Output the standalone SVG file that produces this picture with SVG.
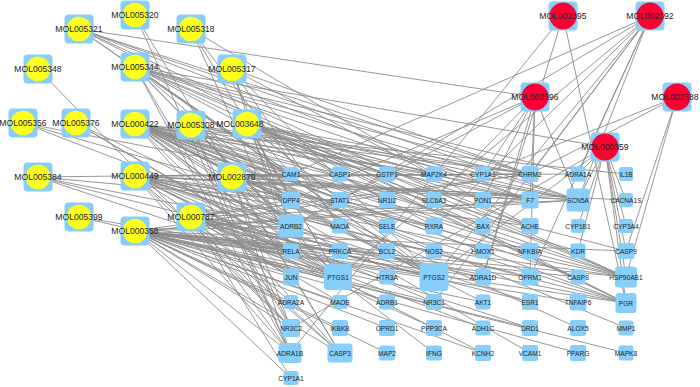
<svg xmlns="http://www.w3.org/2000/svg" width="700" height="387" viewBox="0 0 700 387">
<style>
.e{fill:none;stroke:#8c8c8c;stroke-width:0.9}
.t rect{fill:#87cefa}
.t text{font-family:"Liberation Sans",Arial,sans-serif;font-size:6.6px;fill:#222;text-anchor:middle}
.c rect{fill:#87cefa}
.c text{font-family:"Liberation Sans",Arial,sans-serif;font-size:8.6px;fill:#222;text-anchor:middle}
.y circle{fill:#ffff1e}
.r circle{fill:#ff0033}
</style>
<rect width="700" height="387" fill="#fff"/>
<g id="edges">
<path class="e" d="M135 15L290 353M135 15L340 353"/>
<path class="e" d="M79 29L530 174M79 29L530 200M79 29L626 277M79 29L626 303M79 29L434 277M79 29L291 174M79 29L535 97M79 29L578 200"/>
<path class="e" d="M191 29L434 174M191 29L338 277M191 29L291 251M191 29L340 226"/>
<path class="e" d="M38 69L291 328"/>
<path class="e" d="M135 67L605 147M135 67L530 174M135 67L578 174M135 67L578 200M135 67L530 200M135 67L434 277M135 67L338 277M135 67L291 226M135 67L626 277M135 67L626 303M135 67L291 174M135 67L291 200M135 67L434 226M135 67L530 226M135 67L291 328M135 67L290 353"/>
<path class="e" d="M232 69L530 226M232 69L291 226M232 69L291 251M232 69L340 226M232 69L434 277M232 69L530 174"/>
<path class="e" d="M23 123L291 174M23 123L291 200M23 123L291 226"/>
<path class="e" d="M76 123L291 226M76 123L338 277M76 123L291 251"/>
<path class="e" d="M135 124L291 174M135 124L340 174M135 124L387 174M135 124L434 174M135 124L291 200M135 124L340 200M135 124L387 200M135 124L291 226M135 124L340 226M135 124L387 226M135 124L291 251M135 124L340 251M135 124L387 251M135 124L434 251M135 124L483 251M135 124L530 251M135 124L291 277M135 124L338 277M135 124L434 277M135 124L483 302M135 124L626 277M135 124L626 303M135 124L340 353M135 124L626 251M135 124L578 277M135 124L626 174M135 124L578 251M135 124L626 328M135 124L530 353M135 124L578 328M135 124L434 353M135 124L530 200M135 124L530 174M135 124L578 200"/>
<path class="e" d="M191 125L291 226M191 125L291 200M191 125L338 277M191 125L434 277M191 125L578 200M191 125L530 200M191 125L626 277M191 125L290 353M191 125L291 328M191 125L530 174M191 125L291 174"/>
<path class="e" d="M247 124L291 174M247 124L340 174M247 124L291 200M247 124L340 200M247 124L291 226M247 124L338 277M247 124L434 277M247 124L434 200M247 124L387 174M247 124L434 174M247 124L387 200M247 124L530 174M247 124L483 174M247 124L483 200M247 124L530 200M247 124L578 200M247 124L530 226M247 124L483 226M247 124L626 277M247 124L626 303"/>
<path class="e" d="M38 177L291 226M38 177L338 277M38 177L434 277M38 177L291 200M38 177L291 174"/>
<path class="e" d="M135 176L291 226M135 176L530 174M135 176L578 200M135 176L530 200M135 176L338 277M135 176L434 277M135 176L626 303M135 176L626 277M135 176L291 328M135 176L290 353M135 176L434 226M135 176L340 251M135 176L340 226M135 176L530 226M135 176L578 174M135 176L530 277M135 176L340 353M135 176L291 200M135 176L291 251M135 176L291 277M135 176L434 302M135 176L530 302M135 176L626 200M135 176L483 353"/>
<path class="e" d="M232 177L291 226M232 177L291 200M232 177L291 174M232 177L338 277M232 177L434 277M232 177L578 200M232 177L530 200M232 177L291 328M232 177L290 353M232 177L340 353M232 177L626 277M232 177L626 303M232 177L434 226M232 177L530 174"/>
<path class="e" d="M79 217L291 251M79 217L338 277"/>
<path class="e" d="M191 217L291 226M191 217L291 200M191 217L291 251M191 217L291 277M191 217L291 302M191 217L291 328M191 217L290 353M191 217L291 378M191 217L338 277M191 217L434 277M191 217L530 174M191 217L578 200M191 217L626 277M191 217L626 303M191 217L340 302M191 217L340 353M191 217L387 277M191 217L387 302M191 217L530 302M191 217L530 328M191 217L483 328M191 217L483 277M191 217L434 328"/>
<path class="e" d="M135 231L291 226M135 231L291 251M135 231L291 277M135 231L291 302M135 231L291 328M135 231L290 353M135 231L291 378M135 231L340 353M135 231L340 302M135 231L338 277M135 231L434 277M135 231L387 251M135 231L626 251M135 231L578 277M135 231L340 251M135 231L530 277M135 231L483 277M135 231L626 277M135 231L626 303M135 231L530 174M135 231L578 200M135 231L530 200M135 231L340 328M135 231L387 328M135 231L434 302M135 231L483 302M135 231L530 328M135 231L578 353M135 231L578 302M135 231L626 353M135 231L387 353M135 231L483 353"/>
<path class="e" d="M563 16L290 353M563 16L483 277M563 16L626 303"/>
<path class="e" d="M650 16L291 174M650 16L340 200M650 16L434 226M650 16L338 277M650 16L434 277M650 16L434 302M650 16L530 174M650 16L578 174M650 16L530 277M650 16L578 200"/>
<path class="e" d="M535 97L434 200M535 97L483 277M535 97L530 277M535 97L578 200M535 97L291 226M535 97L291 200M535 97L483 174M535 97L483 200M535 97L530 200"/>
<path class="e" d="M677 97L530 174M677 97L483 174M677 97L626 251M677 97L626 277"/>
<path class="e" d="M605 147L626 251M605 147L626 277M605 147L626 303M605 147L291 328M605 147L578 174M605 147L578 200M605 147L578 251M605 147L578 226M605 147L626 200M605 147L626 226M605 147L434 277"/>
</g>
<g id="targets" class="t">
<g id="CAM1"><rect x="283.5" y="167" width="15" height="14" rx="2.5"/><text x="291" y="176.5">CAM1</text></g>
<g id="CASP1"><rect x="332" y="166.5" width="16" height="15" rx="2.5"/><text x="340" y="176.5">CASP1</text></g>
<g id="GSTP1"><rect x="379" y="166.5" width="16" height="15" rx="2.5"/><text x="387" y="176.5">GSTP1</text></g>
<g id="MAP2K4"><rect x="426" y="166.5" width="16" height="15" rx="2.5"/><text x="434" y="176.5">MAP2K4</text></g>
<g id="CYP1A2"><rect x="475.5" y="166.5" width="15" height="15" rx="2.5"/><text x="483" y="176.5">CYP1A2</text></g>
<g id="CHRM2"><rect x="521.5" y="166" width="17" height="16" rx="2.5"/><text x="530" y="176.5">CHRM2</text></g>
<g id="ADRA1A"><rect x="570.5" y="166.5" width="15" height="15" rx="2.5"/><text x="578" y="176.5">ADRA1A</text></g>
<g id="IL1B"><rect x="619" y="167" width="14" height="14" rx="2.5"/><text x="626" y="176.5">IL1B</text></g>
<g id="DPP4"><rect x="282" y="191.5" width="18" height="17" rx="2.5"/><text x="291" y="202.5">DPP4</text></g>
<g id="STAT1"><rect x="332" y="192" width="16" height="16" rx="2.5"/><text x="340" y="202.5">STAT1</text></g>
<g id="NR1I2"><rect x="379" y="192" width="16" height="16" rx="2.5"/><text x="387" y="202.5">NR1I2</text></g>
<g id="SLC6A3"><rect x="426" y="192" width="16" height="16" rx="2.5"/><text x="434" y="202.5">SLC6A3</text></g>
<g id="PON1"><rect x="475" y="192" width="16" height="16" rx="2.5"/><text x="483" y="202.5">PON1</text></g>
<g id="F7"><rect x="521.5" y="191.5" width="17" height="17" rx="2.5"/><text x="530" y="202.5">F7</text></g>
<g id="SCN5A"><rect x="566.5" y="188.5" width="23" height="23" rx="3"/><text x="578" y="202.5">SCN5A</text></g>
<g id="CACNA1S"><rect x="619" y="193" width="14" height="14" rx="2.5"/><text x="626" y="202.5">CACNA1S</text></g>
<g id="ADRB2"><rect x="278.5" y="214.5" width="25" height="23" rx="3"/><text x="291" y="228.5">ADRB2</text></g>
<g id="MAOA"><rect x="332" y="218.5" width="16" height="15" rx="2.5"/><text x="340" y="228.5">MAOA</text></g>
<g id="SELE"><rect x="379" y="218.5" width="16" height="15" rx="2.5"/><text x="387" y="228.5">SELE</text></g>
<g id="RXRA"><rect x="425.5" y="217.5" width="17" height="17" rx="2.5"/><text x="434" y="228.5">RXRA</text></g>
<g id="BAX"><rect x="475.5" y="218" width="15" height="16" rx="2.5"/><text x="483" y="228.5">BAX</text></g>
<g id="ACHE"><rect x="521.5" y="218" width="17" height="16" rx="2.5"/><text x="530" y="228.5">ACHE</text></g>
<g id="CYP1B1"><rect x="571" y="219" width="14" height="14" rx="2.5"/><text x="578" y="228.5">CYP1B1</text></g>
<g id="CYP3A4"><rect x="619" y="219" width="14" height="14" rx="2.5"/><text x="626" y="228.5">CYP3A4</text></g>
<g id="RELA"><rect x="283" y="243.5" width="16" height="15" rx="2.5"/><text x="291" y="253.5">RELA</text></g>
<g id="PRKCA"><rect x="332" y="243" width="16" height="16" rx="2.5"/><text x="340" y="253.5">PRKCA</text></g>
<g id="BCL2"><rect x="379" y="243" width="16" height="16" rx="2.5"/><text x="387" y="253.5">BCL2</text></g>
<g id="NOS2"><rect x="426" y="243.5" width="16" height="15" rx="2.5"/><text x="434" y="253.5">NOS2</text></g>
<g id="HMOX1"><rect x="475.5" y="243.5" width="15" height="15" rx="2.5"/><text x="483" y="253.5">HMOX1</text></g>
<g id="NFKBIA"><rect x="521.5" y="243" width="17" height="16" rx="2.5"/><text x="530" y="253.5">NFKBIA</text></g>
<g id="KDR"><rect x="570.5" y="243.5" width="15" height="15" rx="2.5"/><text x="578" y="253.5">KDR</text></g>
<g id="CASP9"><rect x="617.5" y="243" width="17" height="16" rx="2.5"/><text x="626" y="253.5">CASP9</text></g>
<g id="JUN"><rect x="283" y="268.5" width="16" height="17" rx="2.5"/><text x="291" y="279.5">JUN</text></g>
<g id="PTGS1"><rect x="324" y="264" width="28" height="26" rx="3.5"/><text x="338" y="279.5">PTGS1</text></g>
<g id="HTR3A"><rect x="379" y="269.5" width="16" height="15" rx="2.5"/><text x="387" y="279.5">HTR3A</text></g>
<g id="PTGS2"><rect x="419.5" y="263" width="29" height="28" rx="3.5"/><text x="434" y="279.5">PTGS2</text></g>
<g id="ADRA1D"><rect x="475" y="268.5" width="16" height="17" rx="2.5"/><text x="483" y="279.5">ADRA1D</text></g>
<g id="OPRM1"><rect x="521.5" y="268.5" width="17" height="17" rx="2.5"/><text x="530" y="279.5">OPRM1</text></g>
<g id="CASP8"><rect x="570.5" y="269.5" width="15" height="15" rx="2.5"/><text x="578" y="279.5">CASP8</text></g>
<g id="HSP90AB1"><rect x="615" y="266.5" width="22" height="21" rx="3"/><text x="626" y="279.5">HSP90AB1</text></g>
<g id="ADRA2A"><rect x="284" y="295" width="14" height="14" rx="2.5"/><text x="291" y="304.5">ADRA2A</text></g>
<g id="MAOB"><rect x="332.5" y="295" width="15" height="14" rx="2.5"/><text x="340" y="304.5">MAOB</text></g>
<g id="ADRB1"><rect x="379" y="294.5" width="16" height="15" rx="2.5"/><text x="387" y="304.5">ADRB1</text></g>
<g id="NR3C1"><rect x="426" y="294" width="16" height="16" rx="2.5"/><text x="434" y="304.5">NR3C1</text></g>
<g id="AKT1"><rect x="475.5" y="294.5" width="15" height="15" rx="2.5"/><text x="483" y="304.5">AKT1</text></g>
<g id="ESR1"><rect x="522" y="294" width="16" height="16" rx="2.5"/><text x="530" y="304.5">ESR1</text></g>
<g id="TNFAIP6"><rect x="569.5" y="293.5" width="17" height="17" rx="2.5"/><text x="578" y="304.5">TNFAIP6</text></g>
<g id="PGR"><rect x="615.5" y="293" width="21" height="20" rx="3"/><text x="626" y="305.5">PGR</text></g>
<g id="NR3C2"><rect x="282" y="319" width="18" height="18" rx="2.5"/><text x="291" y="330.5">NR3C2</text></g>
<g id="IKBKB"><rect x="332" y="320" width="16" height="16" rx="2.5"/><text x="340" y="330.5">IKBKB</text></g>
<g id="OPRD1"><rect x="379" y="320" width="16" height="16" rx="2.5"/><text x="387" y="330.5">OPRD1</text></g>
<g id="PPP3CA"><rect x="426" y="320" width="16" height="16" rx="2.5"/><text x="434" y="330.5">PPP3CA</text></g>
<g id="ADH1C"><rect x="475.5" y="320.5" width="15" height="15" rx="2.5"/><text x="483" y="330.5">ADH1C</text></g>
<g id="DRD1"><rect x="522" y="320" width="16" height="16" rx="2.5"/><text x="530" y="330.5">DRD1</text></g>
<g id="ALOX5"><rect x="570" y="320" width="16" height="16" rx="2.5"/><text x="578" y="330.5">ALOX5</text></g>
<g id="MMP1"><rect x="618.5" y="320.5" width="15" height="15" rx="2.5"/><text x="626" y="330.5">MMP1</text></g>
<g id="ADRA1B"><rect x="278.5" y="343" width="23" height="20" rx="3"/><text x="290" y="355.5">ADRA1B</text></g>
<g id="CASP3"><rect x="327.5" y="343.5" width="25" height="19" rx="3"/><text x="340" y="355.5">CASP3</text></g>
<g id="MAP2"><rect x="379" y="345.5" width="16" height="15" rx="2.5"/><text x="387" y="355.5">MAP2</text></g>
<g id="IFNG"><rect x="426" y="345.5" width="16" height="15" rx="2.5"/><text x="434" y="355.5">IFNG</text></g>
<g id="KCNH2"><rect x="475" y="345" width="16" height="16" rx="2.5"/><text x="483" y="355.5">KCNH2</text></g>
<g id="VCAM1"><rect x="522" y="345" width="16" height="16" rx="2.5"/><text x="530" y="355.5">VCAM1</text></g>
<g id="PPARG"><rect x="570" y="345" width="16" height="16" rx="2.5"/><text x="578" y="355.5">PPARG</text></g>
<g id="MAPK8"><rect x="618.5" y="345.5" width="15" height="15" rx="2.5"/><text x="626" y="355.5">MAPK8</text></g>
<g id="CYP1A1"><rect x="283.5" y="371" width="15" height="14" rx="2.5"/><text x="291" y="380.5">CYP1A1</text></g>
</g>
<g id="compounds" class="c">
<g id="MOL005320" class="y"><rect x="120.5" y="0.5" width="29" height="29" rx="4"/><circle cx="135" cy="15" r="12.3"/><text x="135" y="18">MOL005320</text></g>
<g id="MOL005321" class="y"><rect x="64.5" y="14.5" width="29" height="29" rx="4"/><circle cx="79" cy="29" r="12.3"/><text x="79" y="32">MOL005321</text></g>
<g id="MOL005318" class="y"><rect x="176.5" y="14.5" width="29" height="29" rx="4"/><circle cx="191" cy="29" r="12.3"/><text x="191" y="32">MOL005318</text></g>
<g id="MOL005348" class="y"><rect x="23.5" y="54.5" width="29" height="29" rx="4"/><circle cx="38" cy="69" r="12.3"/><text x="38" y="72">MOL005348</text></g>
<g id="MOL005344" class="y"><rect x="120.5" y="52.5" width="29" height="29" rx="4"/><circle cx="135" cy="67" r="12.3"/><text x="135" y="70">MOL005344</text></g>
<g id="MOL005317" class="y"><rect x="217.5" y="54.5" width="29" height="29" rx="4"/><circle cx="232" cy="69" r="12.3"/><text x="232" y="72">MOL005317</text></g>
<g id="MOL005356" class="y"><rect x="8.5" y="108.5" width="29" height="29" rx="4"/><circle cx="23" cy="123" r="12.3"/><text x="23" y="126">MOL005356</text></g>
<g id="MOL005376" class="y"><rect x="61.5" y="108.5" width="29" height="29" rx="4"/><circle cx="76" cy="123" r="12.3"/><text x="76" y="126">MOL005376</text></g>
<g id="MOL000422" class="y"><rect x="120.5" y="109.5" width="29" height="29" rx="4"/><circle cx="135" cy="124" r="12.3"/><text x="135" y="127">MOL000422</text></g>
<g id="MOL005308" class="y"><rect x="176.5" y="110.5" width="29" height="29" rx="4"/><circle cx="191" cy="125" r="12.3"/><text x="191" y="128">MOL005308</text></g>
<g id="MOL003648" class="y"><rect x="232.5" y="109.5" width="29" height="29" rx="4"/><circle cx="247" cy="124" r="12.3"/><text x="240" y="127">MOL003648</text></g>
<g id="MOL005384" class="y"><rect x="23.5" y="162.5" width="29" height="29" rx="4"/><circle cx="38" cy="177" r="12.3"/><text x="38" y="180">MOL005384</text></g>
<g id="MOL000449" class="y"><rect x="120.5" y="161.5" width="29" height="29" rx="4"/><circle cx="135" cy="176" r="12.3"/><text x="135" y="179">MOL000449</text></g>
<g id="MOL002879" class="y"><rect x="217.5" y="162.5" width="29" height="29" rx="4"/><circle cx="232" cy="177" r="12.3"/><text x="232" y="180">MOL002879</text></g>
<g id="MOL005399" class="y"><rect x="64.5" y="202.5" width="29" height="29" rx="4"/><circle cx="79" cy="217" r="12.3"/><text x="79" y="220">MOL005399</text></g>
<g id="MOL000787" class="y"><rect x="176.5" y="202.5" width="29" height="29" rx="4"/><circle cx="191" cy="217" r="12.3"/><text x="191" y="220">MOL000787</text></g>
<g id="MOL000358" class="y"><rect x="120.5" y="216.5" width="29" height="29" rx="4"/><circle cx="135" cy="231" r="12.3"/><text x="135" y="234">MOL000358</text></g>
<g id="MOL002395" class="r"><rect x="548.5" y="1.5" width="29" height="29" rx="4"/><circle cx="563" cy="16" r="13.5"/><text x="563" y="19">MOL002395</text></g>
<g id="MOL002392" class="r"><rect x="635.5" y="1.5" width="29" height="29" rx="4"/><circle cx="650" cy="16" r="13.5"/><text x="650" y="19">MOL002392</text></g>
<g id="MOL002396" class="r"><rect x="520.5" y="82.5" width="29" height="29" rx="4"/><circle cx="535" cy="97" r="13.5"/><text x="535" y="100">MOL002396</text></g>
<g id="MOL002388" class="r"><rect x="662.5" y="82.5" width="29" height="29" rx="4"/><circle cx="677" cy="97" r="13.5"/><text x="675" y="100">MOL002388</text></g>
<g id="MOL000359" class="r"><rect x="590.5" y="132.5" width="29" height="29" rx="4"/><circle cx="605" cy="147" r="13.5"/><text x="605" y="150">MOL000359</text></g>
</g>
</svg>
